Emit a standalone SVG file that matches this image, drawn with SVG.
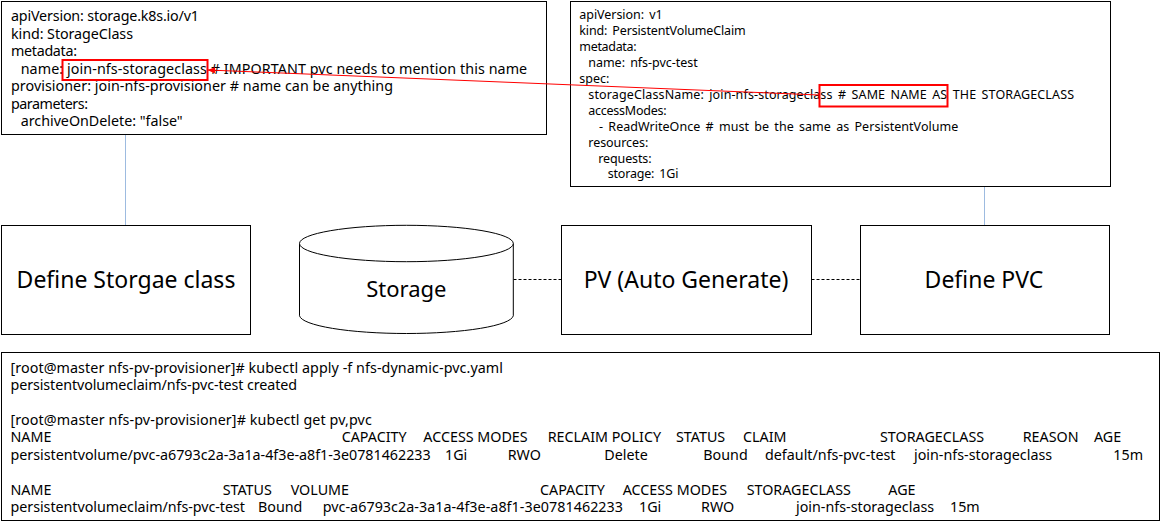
<svg xmlns="http://www.w3.org/2000/svg" width="1161" height="525" viewBox="0 0 1161 525">
<style>
  text { font-family: "Noto Sans", "Liberation Sans", sans-serif; fill: #000; }
  .box { fill: #fff; stroke: #000; stroke-width: 1; }
  .code { font-size: 14.3px; }
  .code2 { font-size: 12.5px; word-spacing: 2px; }
  .node { font-size: 23px; text-anchor: middle; }
  .link { stroke: #9dbbe0; stroke-width: 1; fill: none; }
  .dash { stroke: #000; stroke-width: 1; stroke-dasharray: 3,2; fill: none; }
  .hl { fill: none; stroke: #ff0000; stroke-width: 2; }
</style>
<defs>
  <marker id="redArrow" markerWidth="8" markerHeight="8" refX="7" refY="4" orient="auto" markerUnits="userSpaceOnUse">
    <path d="M0,0.8 L7.5,4 L0,7.2 Z" fill="#ff0000"/>
  </marker>
</defs>
<rect width="1161" height="525" fill="#fff"/>

<g id="connectors">
  <line class="link" x1="125.5" y1="135" x2="125.5" y2="225"/>
  <line class="link" x1="984.5" y1="187" x2="984.5" y2="225"/>
  <line class="dash" x1="513.5" y1="279.5" x2="561.5" y2="279.5"/>
  <line class="dash" x1="811.5" y1="279.5" x2="860.5" y2="279.5"/>
</g>

<g id="storageclass-yaml">
  <rect class="box" x="1.5" y="1.5" width="545" height="133"/>
  <text class="code" x="11" y="21" textLength="188" lengthAdjust="spacing">apiVersion: storage.k8s.io/v1</text>
  <text class="code" x="11" y="38.5" textLength="122" lengthAdjust="spacing">kind: StorageClass</text>
  <text class="code" x="11" y="56" textLength="66" lengthAdjust="spacing">metadata:</text>
  <text class="code" x="20.7" y="73.5" textLength="506.5" lengthAdjust="spacing">name: join-nfs-storageclass # IMPORTANT pvc needs to mention this name</text>
  <text class="code" x="11" y="91" textLength="382" lengthAdjust="spacing">provisioner: join-nfs-provisioner # name can be anything</text>
  <text class="code" x="11" y="108.5" textLength="77" lengthAdjust="spacing">parameters:</text>
  <text class="code" x="20.7" y="126" textLength="162" lengthAdjust="spacing">archiveOnDelete: "false"</text>
  <rect class="hl" x="62.5" y="60" width="145" height="20"/>
</g>

<g id="pvc-yaml">
  <rect class="box" x="570.5" y="1.5" width="540" height="185"/>
  <text class="code2" x="579.3" y="18.5" textLength="83.4" lengthAdjust="spacing">apiVersion: v1</text>
  <text class="code2" x="579.3" y="34.5" textLength="166.4" lengthAdjust="spacing">kind: PersistentVolumeClaim</text>
  <text class="code2" x="579.3" y="50.5" textLength="57.3" lengthAdjust="spacing">metadata:</text>
  <text class="code2" x="588.3" y="66.5" textLength="109.4" lengthAdjust="spacing">name: nfs-pvc-test</text>
  <text class="code2" x="579.3" y="82.5" textLength="30" lengthAdjust="spacing">spec:</text>
  <text class="code2" x="588.3" y="98.5" textLength="485.7" lengthAdjust="spacing">storageClassName: join-nfs-storageclass # SAME NAME AS THE STORAGECLASS</text>
  <text class="code2" x="588.3" y="114.5" textLength="78.3" lengthAdjust="spacing">accessModes:</text>
  <text class="code2" x="599" y="130.5" textLength="359.3" lengthAdjust="spacing">- ReadWriteOnce #  must be the same as PersistentVolume</text>
  <text class="code2" x="588.3" y="146.5" textLength="60" lengthAdjust="spacing">resources:</text>
  <text class="code2" x="598.3" y="162.5" textLength="53.3" lengthAdjust="spacing">requests:</text>
  <text class="code2" x="607.7" y="178.3" textLength="70.7" lengthAdjust="spacing">storage: 1Gi</text>
  <rect class="hl" x="819.5" y="85" width="128" height="21.5"/>
</g>

<g id="red-arrow">
  <line x1="819" y1="95" x2="208" y2="70" stroke="#ff0000" stroke-width="1" marker-end="url(#redArrow)"/>
</g>

<g id="define-storageclass">
  <rect class="box" x="1.5" y="225.5" width="249" height="109"/>
  <text class="node" x="126" y="288">Define Storgae class</text>
</g>

<g id="storage">
  <path class="box" d="M299.5,243.5 L299.5,315.8 A107,18.5 0 0 0 513.3,315.8 L513.3,243.5"/>
  <ellipse class="box" cx="406.4" cy="243.5" rx="106.9" ry="18.2"/>
  <text class="node" x="406.4" y="297" style="font-size:22px">Storage</text>
</g>

<g id="pv">
  <rect class="box" x="561.5" y="225.5" width="250" height="109"/>
  <text class="node" x="686" y="288">PV (Auto Generate)</text>
</g>

<g id="define-pvc">
  <rect class="box" x="860.5" y="225.5" width="249" height="109"/>
  <text class="node" x="984" y="288">Define PVC</text>
</g>

<g id="kubectl-output">
  <rect class="box" x="1.5" y="352.5" width="1158" height="168"/>
  <text class="code" x="10.5" y="373" textLength="492.5" lengthAdjust="spacing">[root@master nfs-pv-provisioner]# kubectl apply -f nfs-dynamic-pvc.yaml</text>
  <text class="code" x="10.5" y="390" textLength="286.5" lengthAdjust="spacing">persistentvolumeclaim/nfs-pvc-test created</text>
  <text class="code" x="10.5" y="425" textLength="361.3" lengthAdjust="spacing">[root@master nfs-pv-provisioner]# kubectl get pv,pvc</text>
  <text class="code" y="442"><tspan x="10.5">NAME</tspan><tspan x="341.7">CAPACITY</tspan><tspan x="423.3">ACCESS MODES</tspan><tspan x="547.7">RECLAIM POLICY</tspan><tspan x="676">STATUS</tspan><tspan x="743">CLAIM</tspan><tspan x="880">STORAGECLASS</tspan><tspan x="1022.7">REASON</tspan><tspan x="1094">AGE</tspan></text>
  <text class="code" x="10.5" y="459.5" textLength="420.2" lengthAdjust="spacing">persistentvolume/pvc-a6793c2a-3a1a-4f3e-a8f1-3e0781462233</text>
  <text class="code" y="459.5"><tspan x="445">1Gi</tspan><tspan x="507.7">RWO</tspan><tspan x="604.3">Delete</tspan><tspan x="703.3">Bound</tspan><tspan x="765">default/nfs-pvc-test</tspan><tspan x="914">join-nfs-storageclass</tspan><tspan x="1113.3">15m</tspan></text>
  <text class="code" y="495"><tspan x="10.5">NAME</tspan><tspan x="222.7">STATUS</tspan><tspan x="290.7">VOLUME</tspan><tspan x="540">CAPACITY</tspan><tspan x="622.7">ACCESS MODES</tspan><tspan x="746.7">STORAGECLASS</tspan><tspan x="888.3">AGE</tspan></text>
  <text class="code" x="10.5" y="512" textLength="234.5" lengthAdjust="spacing">persistentvolumeclaim/nfs-pvc-test</text>
  <text class="code" y="512"><tspan x="258">Bound</tspan></text>
  <text class="code" x="322.7" y="512" textLength="300.3" lengthAdjust="spacing">pvc-a6793c2a-3a1a-4f3e-a8f1-3e0781462233</text>
  <text class="code" y="512"><tspan x="639">1Gi</tspan><tspan x="701">RWO</tspan><tspan x="796">join-nfs-storageclass</tspan><tspan x="950">15m</tspan></text>
</g>
</svg>
